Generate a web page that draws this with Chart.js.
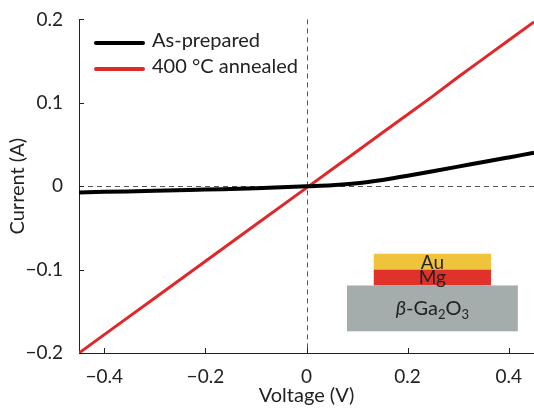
<!DOCTYPE html>
<html>
<head>
<meta charset="utf-8">
<script src="https://cdn.jsdelivr.net/npm/chart.js@4.4.1/dist/chart.umd.min.js"></script>
<style>
  html, body { margin: 0; padding: 0; background: #fff; }
  #wrap { width: 534px; height: 410px; position: relative; }
</style>
</head>
<body>
<div id="wrap"><canvas id="ivChart" width="534" height="410"></canvas></div>
<script>
const voltage = [-0.45, -0.4, -0.3, -0.2, -0.1, 0, 0.05, 0.1, 0.15, 0.2, 0.25, 0.3, 0.35, 0.4, 0.45];
const asPrepared = [-0.0075, -0.0068, -0.0055, -0.004, -0.0025, 0, 0.0012, 0.0035, 0.0075, 0.0125, 0.018, 0.0235, 0.029, 0.0345, 0.040];
const annealed = [-0.2, -0.178, -0.134, -0.090, -0.046, -0.002, 0.020, 0.042, 0.064, 0.086, 0.108, 0.131, 0.153, 0.175, 0.197];
const xTicks = [-0.4, -0.2, 0, 0.2, 0.4];
const yTicks = [-0.2, -0.1, 0, 0.1, 0.2];
const seriesNames = ["As-prepared", "400 \u00B0C annealed"];
const seriesColors = ["#000000", "#e0282a"];

const FONT = "Lato, 'Open Sans', sans-serif";

function fmt(v) {
  if (Math.abs(v) < 1e-9) return "0";
  const s = Math.abs(v).toFixed(1);
  return v < 0 ? "\u2212" + s : s;
}

// inward ticks, zero lines, legend and the layer inset
const extras = {
  id: "extras",
  beforeDatasetsDraw(chart) {
    const { ctx, chartArea: a, scales: { x, y } } = chart;
    ctx.save();
    ctx.strokeStyle = "#555";
    ctx.lineWidth = 1;
    ctx.setLineDash([5, 4]);
    const x0 = Math.round(x.getPixelForValue(0)) + 0.5;
    const y0 = Math.round(y.getPixelForValue(0)) + 0.5;
    ctx.beginPath();
    ctx.moveTo(x0, a.top); ctx.lineTo(x0, a.bottom);
    ctx.moveTo(a.left, y0); ctx.lineTo(a.right, y0);
    ctx.stroke();
    ctx.setLineDash([]);

    // inset: Au / Mg / beta-Ga2O3 stack
    const box = (x1, x2, y1, y2, fill) => {
      const px1 = x.getPixelForValue(x1), px2 = x.getPixelForValue(x2);
      const py1 = y.getPixelForValue(y1), py2 = y.getPixelForValue(y2);
      ctx.fillStyle = fill;
      ctx.fillRect(px1, py1, px2 - px1, py2 - py1);
      return { cx: (px1 + px2) / 2, cy: (py1 + py2) / 2 };
    };
    const au = box(0.133, 0.365, -0.081, -0.100, "#f0c33c");
    const mg = box(0.133, 0.365, -0.100, -0.119, "#e0312a");
    const ga = box(0.080, 0.418, -0.119, -0.174, "#a4acac");
    ctx.fillStyle = "#222";
    ctx.textAlign = "center";
    ctx.textBaseline = "middle";
    ctx.font = "19px " + FONT;
    ctx.fillText("Au", au.cx, au.cy + 1);
    ctx.fillText("Mg", mg.cx, mg.cy);
    // beta-Ga2O3 with subscripts
    const parts = [["\u03B2", "italic 20px " + FONT, 0], ["-Ga", "20px " + FONT, 0], ["2", "13px " + FONT, 6], ["O", "20px " + FONT, 0], ["3", "13px " + FONT, 6]];
    let w = 0;
    parts.forEach(p => { ctx.font = p[1]; w += ctx.measureText(p[0]).width; });
    let cx = ga.cx - w / 2;
    ctx.textAlign = "left";
    parts.forEach(p => {
      ctx.font = p[1];
      ctx.fillText(p[0], cx, ga.cy + p[2]);
      cx += ctx.measureText(p[0]).width;
    });
    ctx.restore();
  },
  afterDraw(chart) {
    const { ctx, chartArea: a, scales: { x, y } } = chart;
    ctx.save();
    ctx.strokeStyle = "#222";
    ctx.lineWidth = 1;
    ctx.beginPath();
    xTicks.forEach(v => {
      const px = Math.round(x.getPixelForValue(v)) + 0.5;
      ctx.moveTo(px, a.bottom); ctx.lineTo(px, a.bottom - 5);
    });
    yTicks.forEach(v => {
      const py = Math.round(y.getPixelForValue(v)) + 0.5;
      ctx.moveTo(a.left, py); ctx.lineTo(a.left + 5, py);
    });
    ctx.stroke();

    // legend
    ctx.font = "20px " + FONT;
    ctx.textBaseline = "middle";
    ctx.textAlign = "left";
    ctx.lineCap = "round";
    seriesNames.forEach((name, i) => {
      const ly = 43 + i * 26;
      ctx.strokeStyle = seriesColors[i];
      ctx.lineWidth = 4;
      ctx.beginPath();
      ctx.moveTo(96, ly); ctx.lineTo(143, ly);
      ctx.stroke();
      ctx.fillStyle = "#222";
      ctx.fillText(name, 152, ly - 2);
    });
    ctx.restore();
  }
};

const ctx = document.getElementById("ivChart").getContext("2d");
new Chart(ctx, {
  type: "line",
  data: {
    datasets: [
      {
        label: seriesNames[0],
        data: voltage.map((v, i) => ({ x: v, y: asPrepared[i] })),
        borderColor: seriesColors[0],
        borderWidth: 4,
        pointRadius: 0,
        tension: 0.4,
        cubicInterpolationMode: "monotone"
      },
      {
        label: seriesNames[1],
        data: voltage.map((v, i) => ({ x: v, y: annealed[i] })),
        borderColor: seriesColors[1],
        borderWidth: 3,
        pointRadius: 0
      }
    ]
  },
  options: {
    responsive: false,
    animation: false,
    devicePixelRatio: 1,
    layout: { padding: { top: 15, right: 0, left: 0, bottom: 0 } },
    plugins: { legend: { display: false }, tooltip: { enabled: false } },
    scales: {
      x: {
        type: "linear",
        min: -0.45,
        max: 0.45,
        afterBuildTicks: s => { s.ticks = xTicks.map(v => ({ value: v })); },
        afterFit: s => { s.height = 57; },
        grid: { display: false },
        border: { display: true, color: "#222", width: 1 },
        ticks: { autoSkip: false, callback: v => fmt(v), color: "#222", font: { family: FONT, size: 19 }, padding: 4, maxRotation: 0 },
        title: { display: true, text: "Voltage (V)", color: "#222", font: { family: FONT, size: 20 }, padding: { top: 0, bottom: 2 } }
      },
      y: {
        min: -0.2,
        max: 0.2,
        afterBuildTicks: s => { s.ticks = yTicks.map(v => ({ value: v })); },
        afterFit: s => { s.width = 79; },
        grid: { display: false },
        border: { display: true, color: "#222", width: 1 },
        ticks: { autoSkip: false, callback: v => fmt(v), color: "#222", font: { family: FONT, size: 19 }, padding: 8 },
        title: { display: true, text: "Current (A)", color: "#222", font: { family: FONT, size: 20 }, padding: { top: 6, bottom: 0 } }
      }
    }
  },
  plugins: [extras]
});
</script>
</body>
</html>
